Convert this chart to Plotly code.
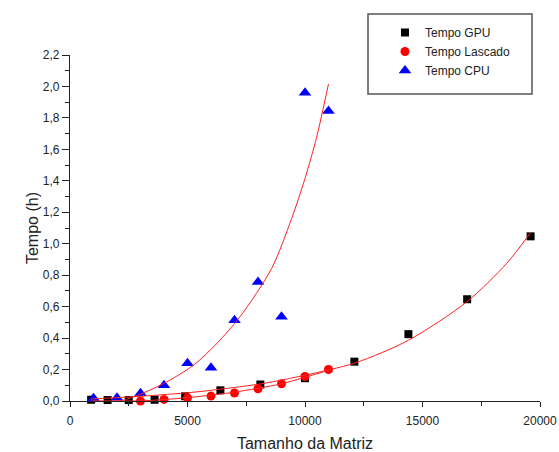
import plotly.graph_objects as go

# ---- data ----
gpu_x = [900, 1600, 2500, 3600, 4900, 6400, 8100, 10000, 12100, 14400, 16900, 19600]
gpu_y = [0.008, 0.006, 0.006, 0.008, 0.03, 0.068, 0.105, 0.145, 0.25, 0.425, 0.647, 1.047]

lasc_x = [3000, 4000, 5000, 6000, 7000, 8000, 9000, 10000, 11000]
lasc_y = [0.0, 0.01, 0.02, 0.031, 0.051, 0.078, 0.11, 0.156, 0.2]

cpu_x = [1000, 2000, 3000, 4000, 5000, 6000, 7000, 8000, 9000, 10000, 11000]
cpu_y = [0.018, 0.02, 0.05, 0.10, 0.24, 0.212, 0.514, 0.757, 0.535, 1.96, 1.844]

# fitted curves
gpu_fit_x = [900, 3000, 5320, 8160, 10000, 12130, 14400, 16880, 18580, 19600]
gpu_fit_y = [0.013, 0.03, 0.057, 0.11, 0.164, 0.242, 0.386, 0.63, 0.875, 1.07]

lasc_fit_x = [900, 2000, 3000, 4000, 5320, 7020, 9000, 11000]
lasc_fit_y = [0.0, 0.0, 0.001, 0.009, 0.026, 0.057, 0.11, 0.195]

cpu_fit_x = [1000, 2100, 2700, 3970, 5250, 6240, 7230, 8580, 9430, 10000, 10500, 11000]
cpu_fit_y = [0.0, 0.0, 0.026, 0.11, 0.227, 0.365, 0.535, 0.843, 1.16, 1.415, 1.68, 2.016]

x_ticks = [0, 5000, 10000, 15000, 20000]
x_tick_text = ["0", "5000", "10000", "15000", "20000"]
y_ticks = [0.0, 0.2, 0.4, 0.6, 0.8, 1.0, 1.2, 1.4, 1.6, 1.8, 2.0, 2.2]
y_tick_text = ["0,0", "0,2", "0,4", "0,6", "0,8", "1,0", "1,2", "1,4", "1,6", "1,8", "2,0", "2,2"]

FONT = "Liberation Sans, Arial, sans-serif"

fig = go.Figure()

fig.add_trace(go.Scatter(x=gpu_x, y=gpu_y, mode="markers", name="Tempo GPU",
                         marker=dict(symbol="square", size=8, color="black"),
                         cliponaxis=False))
fig.add_trace(go.Scatter(x=lasc_x, y=lasc_y, mode="markers", name="Tempo Lascado",
                         marker=dict(symbol="circle", size=9, color="#ff0000"),
                         cliponaxis=False))
fig.add_trace(go.Scatter(x=cpu_x, y=cpu_y, mode="markers", name="Tempo CPU",
                         marker=dict(symbol="triangle-up", size=11, color="#0000ff"),
                         cliponaxis=False))

for fx, fy in [(gpu_fit_x, gpu_fit_y), (lasc_fit_x, lasc_fit_y), (cpu_fit_x, cpu_fit_y)]:
    fig.add_trace(go.Scatter(x=fx, y=fy, mode="lines", showlegend=False,
                             line=dict(color="#ff2020", width=1, shape="spline", smoothing=0.8),
                             hoverinfo="skip"))

W, H = 559, 452
ML, MR, MT, MB = 70, 19, 55, 51
pw, ph = W - ML - MR, H - MT - MB

def px_x(p):
    return (p - ML) / pw

def px_y(p):
    return (H - MB - p) / ph

fig.update_layout(
    width=W, height=H,
    margin=dict(l=ML, r=MR, t=MT, b=MB, autoexpand=False),
    paper_bgcolor="white", plot_bgcolor="white",
    font=dict(family=FONT, color="#222222", size=12),
    showlegend=True,
    legend=dict(x=px_x(385), y=px_y(18), xanchor="left", yanchor="top",
                bgcolor="rgba(0,0,0,0)", borderwidth=0,
                font=dict(family=FONT, size=12, color="#222222")),
    shapes=[dict(type="rect", xref="paper", yref="paper",
                 x0=px_x(368), x1=px_x(532), y0=px_y(14), y1=px_y(94),
                 line=dict(color="#555555", width=1.5), fillcolor="rgba(0,0,0,0)")],
    xaxis=dict(range=[0, 20000], showgrid=False, zeroline=False,
               showline=True, linecolor="#222222", linewidth=1.2,
               ticks="outside", ticklen=5, tickcolor="#222222", tickwidth=1,
               tickvals=x_ticks, ticktext=x_tick_text, ticklabelstandoff=3,
               tickfont=dict(size=12, color="#222222"),
               minor=dict(tickvals=[2500, 7500, 12500, 17500], ticks="outside",
                          ticklen=4, tickcolor="#222222", tickwidth=1),
               title=dict(text="Tamanho da Matriz", font=dict(size=16, color="#222222"), standoff=13)),
    yaxis=dict(range=[0, 2.2], showgrid=False, zeroline=False,
               showline=True, linecolor="#222222", linewidth=1.2,
               ticks="outside", ticklen=7, tickcolor="#222222", tickwidth=1,
               tickvals=y_ticks, ticktext=y_tick_text,
               tickfont=dict(size=12, color="#222222"),
               minor=dict(dtick=0.1, ticks="outside", ticklen=4, tickcolor="#222222", tickwidth=1),
               title=dict(text="Tempo (h)", font=dict(size=16, color="#222222"), standoff=0)),
)

fig.write_html("out.html", config={"displayModeBar": False},
               post_script="document.body.style.margin='0px';document.body.style.padding='0px';")
